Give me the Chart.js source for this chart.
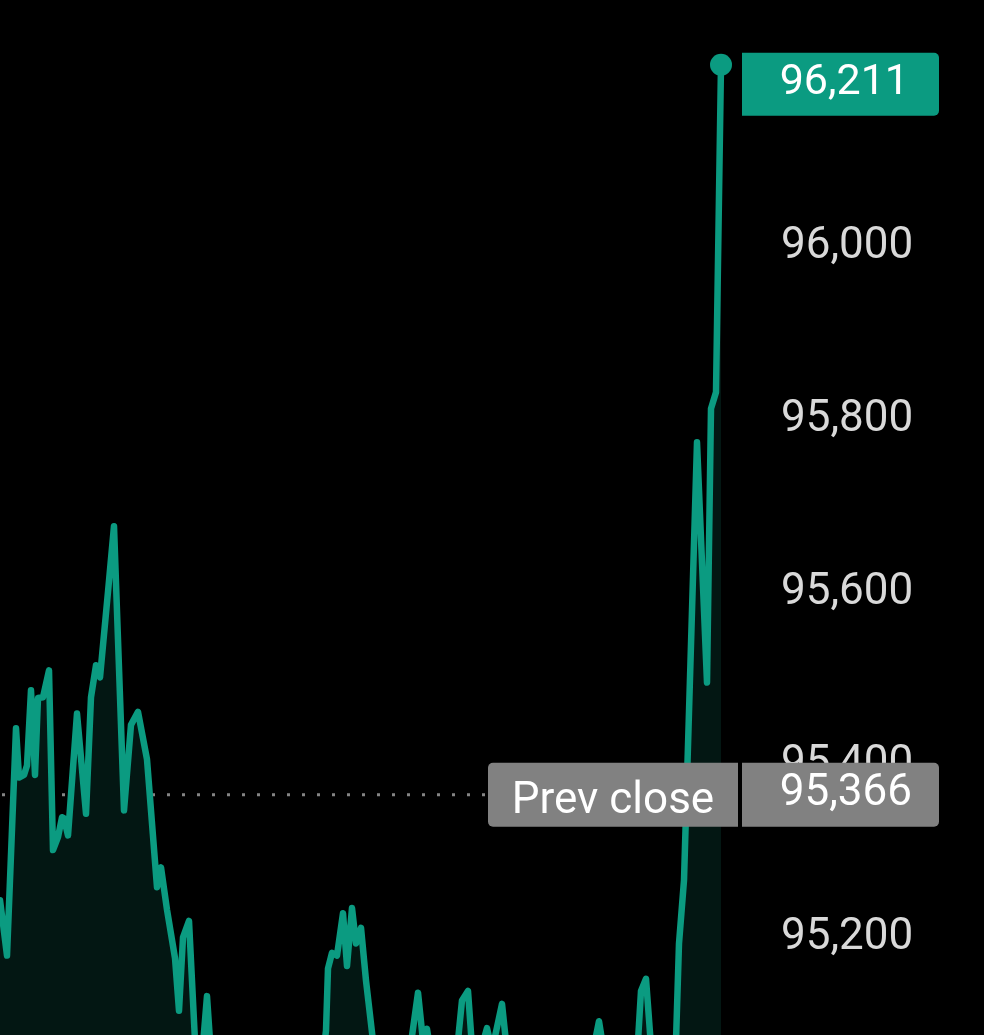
<!DOCTYPE html>
<html>
<head>
<meta charset="utf-8">
<script src="https://cdn.jsdelivr.net/npm/chart.js@4/dist/chart.umd.min.js"></script>
<style>
  html, body { margin: 0; padding: 0; background: #000; overflow: hidden; }
  #wrap { width: 984px; height: 1035px; position: relative; }
</style>
</head>
<body>
<div id="wrap"><canvas id="c"></canvas></div>
<script>
// Minutes since session open
const timeMin = [0,3.5,8,9.5,12,13.5,15.5,17.5,19,21.5,24.5,26.5,29,31,32,34,38.5,43,45.5,48,50,54,57,62,65.5,69,73.5,78.5,80.5,83.5,87.5,89.5,91.5,94.5,97.5,100,103.5,106,112.5,122.5,132.5,142.5,152.5,160,163,164,166,168.5,171.5,173.5,176,178,180.5,183,186.5,192.5,200,205,209,211.5,213.5,216,222.5,228.5,231,234,236.5,241,243.5,246,251,254,262.5,272.5,282.5,292.5,297.5,299.5,301.5,307.5,315,319,320.5,323,325.5,330,335,338,339.5,342,348.5,353.5,355.5,358,360.5];
const prices = [95244,95180,95443,95386,95389,95400,95487,95389,95478,95479,95510,95302,95317,95340,95339,95319,95460,95344,95479,95516,95502,95601,95677,95348,95447,95462,95407,95259,95282,95233,95177,95116,95201,95220,95081,95035,95133,95047,95012,95029,95000,95023,95012,95035,95093,95165,95183,95180,95229,95168,95235,95194,95212,95151,95081,95023,95041,95070,95137,95081,95095,95058,95023,95070,95128,95139,95058,95075,95096,95070,95124,95058,95012,95035,95012,95047,95081,95104,95075,95029,95058,95081,95139,95153,95075,95023,95047,95081,95194,95267,95774,95496,95813,95832,96211];
const tickValues = [95200, 95400, 95600, 95800, 96000];
const prevClose = 95366;
const lastPrice = 96211;
const yMin = 95088;
const yMax = 96286;

const TEAL = '#0b9b81';
const fmt = v => Number(v).toLocaleString('en-US');

const overlay = {
  id: 'overlay',
  beforeDatasetsDraw(chart) {
    const ctx = chart.ctx;
    const y = chart.scales.y.getPixelForValue(prevClose);
    ctx.save();
    ctx.strokeStyle = '#858585';
    ctx.lineWidth = 3;
    ctx.setLineDash([3, 12]);
    ctx.beginPath();
    ctx.moveTo(2, y);
    ctx.lineTo(chart.chartArea.right, y);
    ctx.stroke();
    ctx.restore();
  },
  afterDraw(chart) {
    const ctx = chart.ctx;
    const ys = chart.scales.y;
    // current price box
    const py = ys.getPixelForValue(lastPrice);
    const bt = py - 12;
    ctx.save();
    ctx.fillStyle = TEAL;
    ctx.beginPath();
    ctx.roundRect(742, bt, 197, 63, [0, 5, 5, 0]);
    ctx.fill();
    ctx.fillStyle = '#ffffff';
    ctx.font = '43px Roboto';
    ctx.textAlign = 'right';
    ctx.textBaseline = 'alphabetic';
    ctx.fillText(fmt(lastPrice), 909, bt + 41);

    // prev close box
    const cy = ys.getPixelForValue(prevClose);
    const top = cy - 32;
    ctx.fillStyle = '#818181';
    ctx.beginPath();
    ctx.roundRect(488, top, 250, 64, [5, 0, 0, 5]);
    ctx.fill();
    ctx.beginPath();
    ctx.roundRect(742, top, 197, 64, [0, 5, 5, 0]);
    ctx.fill();
    ctx.fillStyle = '#ffffff';
    ctx.font = '44px Roboto';
    ctx.textAlign = 'center';
    ctx.fillText('Prev close', 613, top + 50);
    ctx.font = '44px Roboto';
    ctx.textAlign = 'right';
    ctx.fillText(fmt(prevClose), 912, top + 42);
    ctx.restore();
  }
};

const data = timeMin.map((t, i) => ({ x: t, y: prices[i] }));
const lastIdx = data.length - 1;

new Chart(document.getElementById('c'), {
  type: 'line',
  data: {
    datasets: [{
      data: data,
      borderColor: TEAL,
      borderWidth: 6.5,
      borderJoinStyle: 'round',
      borderCapStyle: 'round',
      tension: 0,
      fill: 'start',
      backgroundColor: '#031713',
      clip: false,
      pointRadius: ctx => ctx.dataIndex === lastIdx ? 11 : 0,
      pointBackgroundColor: TEAL,
      pointBorderWidth: 0,
      pointHoverRadius: 0
    }]
  },
  options: {
    responsive: true,
    maintainAspectRatio: false,
    animation: false,
    events: [],
    layout: { padding: 0, autoPadding: false },
    plugins: { legend: { display: false }, tooltip: { enabled: false } },
    scales: {
      x: {
        type: 'linear',
        display: false,
        min: timeMin[0],
        max: timeMin[lastIdx]
      },
      y: {
        position: 'right',
        min: yMin,
        max: yMax,
        grid: { display: false, drawTicks: false },
        border: { display: false },
        afterBuildTicks: s => { s.ticks = tickValues.map(v => ({ value: v })); },
        afterFit: s => { s.width = 263; s.paddingTop = 0; s.paddingBottom = 0; },
        ticks: {
          padding: 60,
          crossAlign: 'near',
          color: '#d9d9d9',
          font: { family: 'Roboto', size: 44 },
          callback: v => fmt(v)
        }
      }
    }
  },
  plugins: [overlay]
});
</script>
</body>
</html>
